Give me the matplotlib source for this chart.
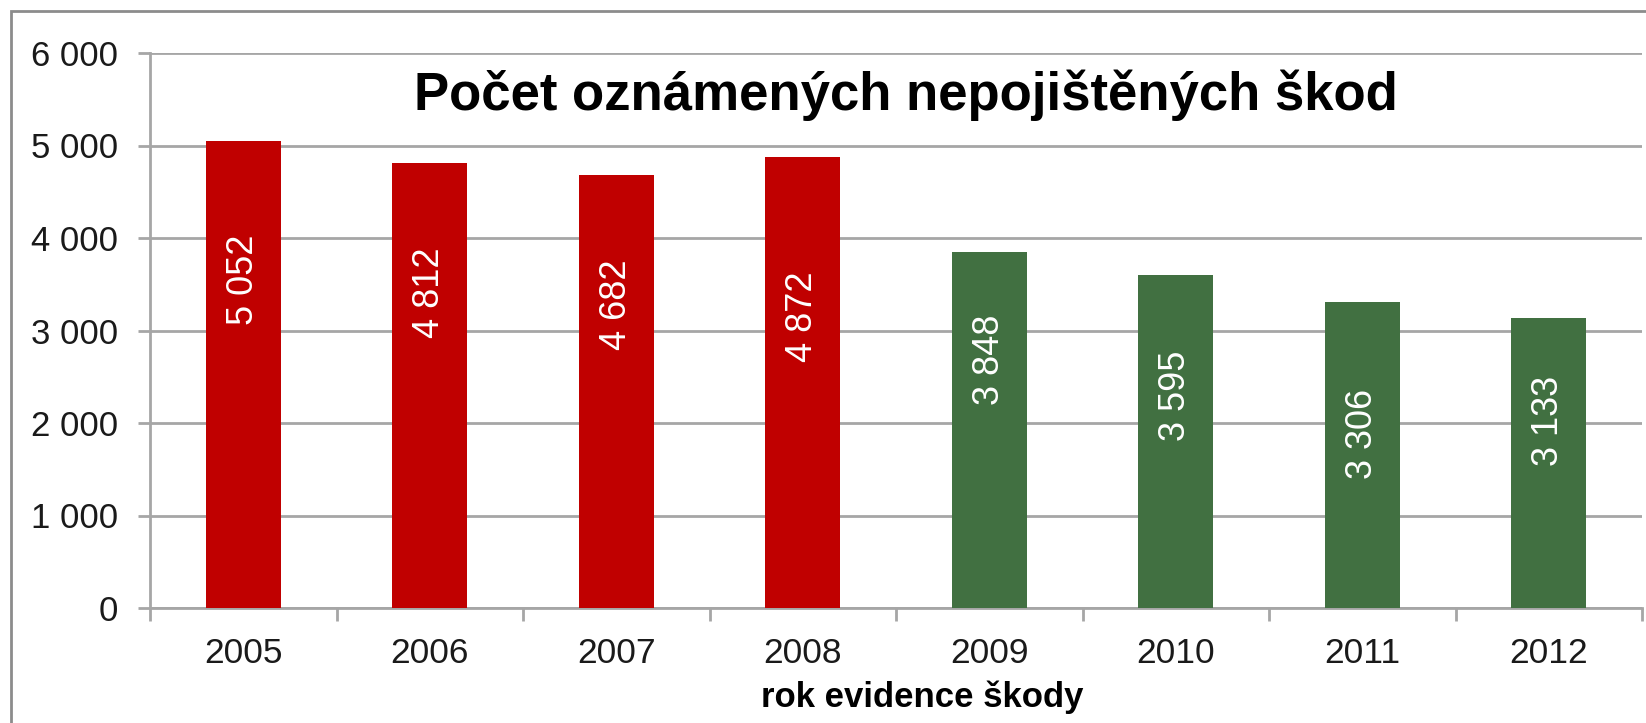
import matplotlib
matplotlib.use("Agg")
import matplotlib.pyplot as plt
from matplotlib.ticker import FuncFormatter, FixedLocator
from matplotlib.patches import Rectangle

plt.rcParams['font.family'] = ['Liberation Sans', 'DejaVu Sans']

years = ['2005', '2006', '2007', '2008', '2009', '2010', '2011', '2012']
counts = [5052, 4812, 4682, 4872, 3848, 3595, 3306, 3133]
# where each value label sits (centre, in data units)
label_centers = [3548, 3408, 3276, 3145, 2688, 2289, 1880, 2027]

red = '#C00000'
green = '#417041'
grid_col = '#A6A6A6'


def space_thousands(v, pos=None):
    return f"{int(v):,}".replace(",", " ")


fig = plt.figure(figsize=(16.46, 7.23), dpi=100)
ax = fig.add_axes([150 / 1646, 1 - 608 / 723, 1492 / 1646, 555 / 723])

colors = [red] * 4 + [green] * 4
x = list(range(len(years)))
ax.bar(x, counts, width=0.4, color=colors, zorder=3)

for xi, v, yc in zip(x, counts, label_centers):
    ax.text(xi, yc, space_thousands(v), rotation=90, ha='center', va='center',
            color='white', fontsize=26, zorder=4)

ax.set_xlim(-0.5, 7.5)
ax.set_ylim(0, 6000)
ax.set_yticks(range(0, 6001, 1000))
ax.yaxis.set_major_formatter(FuncFormatter(space_thousands))
ax.set_xticks(x)
ax.set_xticklabels(years)
ax.xaxis.set_minor_locator(FixedLocator([i - 0.5 for i in range(9)]))

ax.grid(axis='y', color=grid_col, linewidth=2, zorder=0)
for side in ['top', 'right']:
    ax.spines[side].set_visible(False)
for side in ['left', 'bottom']:
    ax.spines[side].set_color(grid_col)
    ax.spines[side].set_linewidth(2)

ax.tick_params(axis='y', length=9, width=2, color=grid_col, pad=14,
               labelsize=25, labelcolor='#1a1a1a')
ax.tick_params(axis='x', which='major', length=0, pad=21,
               labelsize=25.5, labelcolor='#1a1a1a')
ax.tick_params(axis='x', which='minor', length=9, width=2, color=grid_col)

fig.text(906 / 1646, 1 - 95 / 723, 'Počet oznámených nepojištěných škod',
         ha='center', va='center', fontsize=38, fontweight='bold')
fig.text(922 / 1646, 1 - 697 / 723, 'rok evidence škody',
         ha='center', va='center', fontsize=25, fontweight='bold')

# outer chart frame (only the top and left edges are inside the picture)
fig.patches.append(Rectangle((11 / 1646, -0.05), 1.2, 1 - 11 / 723 + 0.05,
                             transform=fig.transFigure, fill=False,
                             edgecolor='#8C8C8C', linewidth=2))

fig.savefig('out.png', dpi=100)
